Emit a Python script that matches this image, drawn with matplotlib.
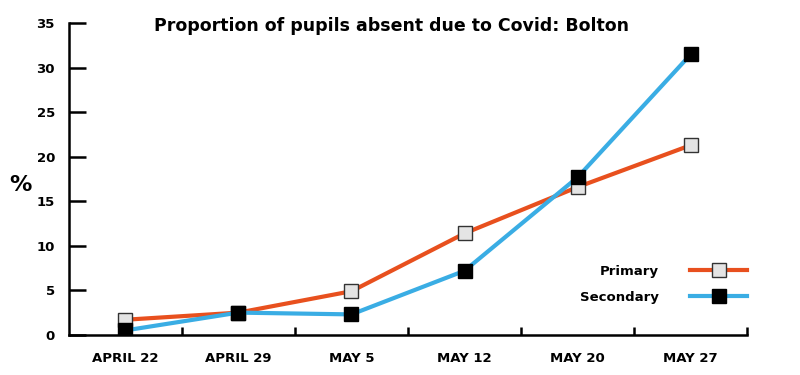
import matplotlib.pyplot as plt
import numpy as np

dates = ['APRIL 22', 'APRIL 29', 'MAY 5', 'MAY 12', 'MAY 20', 'MAY 27']
primary = [1.7, 2.5, 4.9, 11.4, 16.6, 21.3]
secondary = [0.5, 2.5, 2.3, 7.2, 17.7, 31.5]
y_ticks = [0, 5, 10, 15, 20, 25, 30, 35]

plt.rcParams['font.family'] = ['DejaVu Sans']
plt.rcParams['font.weight'] = 'bold'

fig = plt.figure(figsize=(8, 3.75), dpi=100)
ax = fig.add_axes([0.086, 0.107, 0.848, 0.831])

x = np.arange(len(dates))
ax.plot(x, primary, color='#e8501e', lw=3, marker='s', ms=10,
        mfc='#e4e4e4', mec='#333333', mew=1, label='Primary', zorder=3)
ax.plot(x, secondary, color='#3aade4', lw=3, marker='s', ms=10,
        mfc='black', mec='black', mew=1, label='Secondary', zorder=3)

ax.set_xlim(-0.5, len(dates) - 0.5)
ax.set_ylim(0, 35)

for s in ['top', 'right']:
    ax.spines[s].set_visible(False)
for s in ['left', 'bottom']:
    ax.spines[s].set_linewidth(1.8)
    ax.spines[s].set_color('black')

ax.set_yticks(y_ticks)
ax.tick_params(axis='y', direction='in', length=12, width=1.8, pad=10,
               labelsize=9.5)
ax.set_xticks(x)
ax.set_xticklabels(dates)
ax.tick_params(axis='x', length=0, pad=12, labelsize=9.5)
ax.set_xticks(list(x[1:] - 0.5) + [len(dates) - 0.5], minor=True)
ax.tick_params(axis='x', which='minor', direction='in', length=6, width=1.8)
for lbl in ax.get_xticklabels() + ax.get_yticklabels():
    lbl.set_fontweight('bold')

ax.text(-0.072, 0.48, '%', transform=ax.transAxes, fontsize=16,
        fontweight='bold', ha='center', va='center')
fig.text(0.489, 0.93, 'Proportion of pupils absent due to Covid: Bolton',
         ha='center', va='center', fontsize=12.5, fontweight='bold')

leg = ax.legend(loc='lower right', bbox_to_anchor=(1.0, 0.1), frameon=False,
                markerfirst=False, handlelength=4.3, fontsize=9.5,
                labelspacing=1.0, handletextpad=2.4, borderaxespad=0,
                borderpad=0)
for t in leg.get_texts():
    t.set_fontweight('bold')

plt.savefig('out.png', dpi=100)
